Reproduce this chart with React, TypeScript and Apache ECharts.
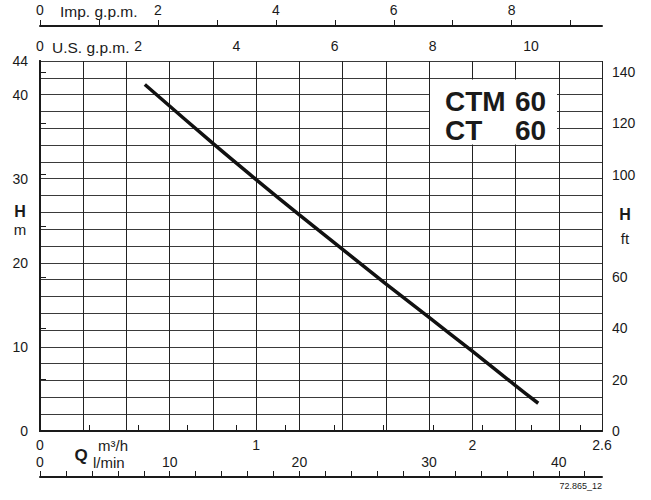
import { useEffect, useRef } from 'react'
import * as echarts from 'echarts'

// Pump curve CTM 60 / CT 60 — head H (m) against flow Q (m³/h)
const curveQ = [0.485, 0.8, 1.0, 1.2, 1.4, 1.6, 1.8, 2.0, 2.2, 2.305]
const curveH = [41.2, 34.2, 29.9, 25.7, 21.6, 17.5, 13.5, 9.5, 5.4, 3.3]

const qLabels = [0, 1, 2, 2.6]
const lpmTicks = [0, 2, 4, 6, 8, 10, 12, 14, 16, 18, 20, 22, 24, 26, 28, 30, 32, 34, 36, 38, 40, 42]
const lpmLabels = [0, 10, 20, 30, 40]
const usTicks = [0, 1, 2, 3, 4, 5, 6, 7, 8, 9, 10, 11]
const usLabels = [0, 2, 4, 6, 8, 10]
const impTicks = [0, 1, 2, 3, 4, 5, 6, 7, 8, 9]
const impLabels = [0, 2, 4, 6, 8]
const hLabels = [0, 10, 20, 30, 40, 44]
const ftTicks = [0, 20, 40, 60, 80, 100, 120, 140]
const ftLabels = [0, 20, 40, 60, 100, 120, 140]

const Q_MAX = 2.6
const H_MAX = 44
const LPM_PER_M3H = 1000 / 60
const USGPM_PER_M3H = 1000 / 3.785411784 / 60
const IMPGPM_PER_M3H = 1000 / 4.54609 / 60
const FT_PER_M = 1 / 0.3048

const INK = '#1a1a1a'
const FONT = '"Liberation Sans", Arial, Helvetica, sans-serif'

export default function App() {
  const ref = useRef<HTMLDivElement>(null)

  useEffect(() => {
    if (!ref.current) return
    const chart = echarts.init(ref.current, null, { renderer: 'svg' })

    const label = { color: INK, fontSize: 14, fontFamily: FONT }
    const noSplit = { show: false }
    const txt = (text: string, x: number, y: number, font: string, align = 'left') => ({
      type: 'text', x, y, z: 100,
      style: { text, font: `${font} ${FONT}`, fill: INK, align, verticalAlign: 'middle' },
    })

    chart.setOption({
      animation: false,
      grid: { left: 40, right: 49, top: 61, bottom: 69, outerBoundsMode: 'none' },
      xAxis: [
        {
          // m³/h, bottom border
          type: 'value', position: 'bottom', min: 0, max: Q_MAX, interval: 0.2,
          axisLine: { show: true, lineStyle: { color: INK, width: 2 } },
          axisTick: { show: false },
          axisLabel: { ...label, margin: 7, customValues: qLabels },
          splitLine: { show: true, lineStyle: { color: '#222', width: 1 } },
        },
        {
          // U.S. g.p.m., top border
          type: 'value', position: 'top', min: 0, max: Q_MAX * USGPM_PER_M3H,
          axisLine: { show: true, lineStyle: { color: INK, width: 2 } },
          axisTick: { show: true, length: 6, lineStyle: { color: INK }, customValues: usTicks },
          axisLabel: { ...label, margin: 8, customValues: usLabels },
          splitLine: noSplit,
        },
        {
          // Imp. g.p.m.
          type: 'value', position: 'top', offset: 35, min: 0, max: Q_MAX * IMPGPM_PER_M3H,
          axisLine: { show: true, lineStyle: { color: INK, width: 2 } },
          axisTick: { show: true, length: 6, lineStyle: { color: INK }, customValues: impTicks },
          axisLabel: { ...label, margin: 9, customValues: impLabels },
          splitLine: noSplit,
        },
        {
          // l/min
          type: 'value', position: 'bottom', offset: 46, min: 0, max: Q_MAX * LPM_PER_M3H,
          axisLine: { show: true, lineStyle: { color: INK, width: 2 } },
          axisTick: { show: true, inside: true, length: 6, lineStyle: { color: INK }, customValues: lpmTicks },
          axisLabel: { ...label, inside: true, margin: 8, customValues: lpmLabels },
          splitLine: noSplit,
        },
      ],
      yAxis: [
        {
          type: 'value', position: 'left', min: 0, max: H_MAX, interval: 2,
          axisLine: { show: true, lineStyle: { color: INK, width: 2 } },
          axisTick: { show: false },
          axisLabel: { ...label, margin: 12, customValues: hLabels },
          splitLine: { show: true, lineStyle: { color: '#3a3a3a', width: 1 } },
        },
        {
          type: 'value', position: 'right', min: 0, max: H_MAX * FT_PER_M,
          axisLine: { show: true, lineStyle: { color: INK, width: 2 } },
          axisTick: { show: true, length: 6, lineStyle: { color: INK }, customValues: ftTicks },
          axisLabel: { ...label, margin: 10, customValues: ftLabels },
          splitLine: noSplit,
        },
      ],
      series: [
        {
          type: 'line',
          xAxisIndex: 0,
          yAxisIndex: 0,
          data: curveQ.map((q, i) => [q, curveH[i]]),
          symbol: 'none',
          smooth: 0.3,
          lineStyle: { color: '#111', width: 3.5, cap: 'butt' },
          z: 5,
        },
      ],
      graphic: [
        txt('Imp. g.p.m.', 60, 11, '15.5px'),
        txt('U.S. g.p.m.', 52, 47, '15.5px'),
        txt('H', 20, 211, 'bold 16px', 'center'),
        txt('m', 20, 229, '15px', 'center'),
        txt('H', 625, 214, 'bold 16px', 'center'),
        txt('ft', 625, 238, '15px', 'center'),
        txt('Q', 81, 455, 'bold 17px', 'center'),
        txt('m³/h', 98, 445, '15px'),
        txt('l/min', 93, 462, '15px'),
        { ...txt('72.865_12', 602, 486, '9px', 'right') },
        { type: 'rect', z: 99, shape: { x: 430, y: 79.5, width: 127, height: 65 }, style: { fill: '#fff' } },
        txt('CTM', 445, 101, 'bold 28px'),
        txt('60', 515, 101, 'bold 28px'),
        txt('CT', 445, 130, 'bold 28px'),
        txt('60', 515, 130, 'bold 28px'),
      ],
    })

    return () => {
      chart.dispose()
    }
  }, [])

  return (
    <div
      ref={ref}
      style={{ position: 'absolute', left: 0, top: 0, width: 651, height: 500, background: '#fff' }}
    />
  )
}
